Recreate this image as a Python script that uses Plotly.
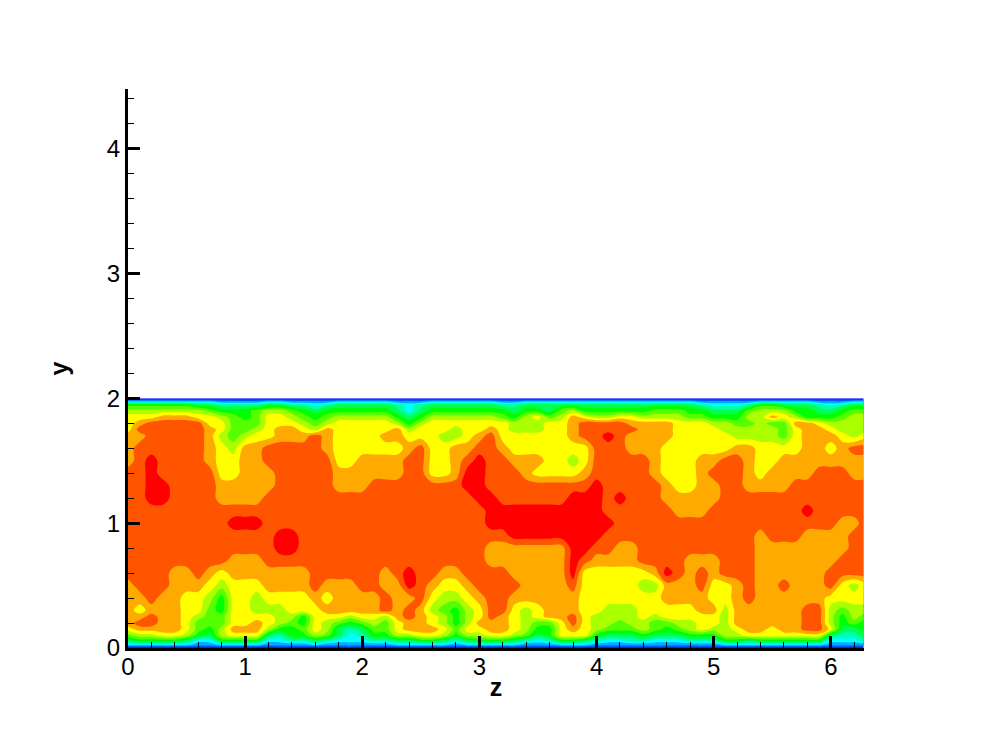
import plotly.graph_objects as go

z_pos = [round(i * 0.1, 1) for i in range(63)] + [6.28]
y_pos = [0, 0.01, 0.03, 0.06, 0.1, 0.15, 0.2, 0.25, 0.3, 0.4, 0.5, 0.6, 0.7, 0.8, 0.9, 1.0,
         1.1, 1.2, 1.3, 1.4, 1.5, 1.6, 1.7, 1.75, 1.8, 1.85, 1.9, 1.95, 1.97, 1.985, 2.0]

r000 = [0] * 64
r001 = [1] * 64
r003 = [3,3,3,3,3,3,2,2,3,3,3,3,2,2,2,2,3,2,2,2,2,2, 2,3,3,3,3,3,2,3,3,3,3,3,2,2,2,3,3,3,2,2, 2,2,2,2,2,2,2,2,2,3,3,3,3,3,3,3,3,3,2,2,2,2]
r006 = [5,6,6,6,6,5,3,3,6,6,6,6,3,3,4,4,5,4,3,3,3,4, 4,5,5,6,6,5,4,5,6,6,6,5,4,3,4,6,6,5,4,3, 3,4,4,3,3,3,4,4,4,6,6,5,6,6,6,6,6,6,3,3,3,4]
r010 = [7,8,8,9,9,8,6,5,8,9,9,9,5,4,6,6,8,7,5,3,4,6, 6,8,8,9,9,8,6,8,8,9,9,8,7,5,6,9,9,9,6,5, 5,5,6,5,5,5,6,6,6,8,8,9,9,9,9,9,9,9,5,4,4,5]
r015 = [9,10,10,10,10,9,7,6,8,10,10,10,8,6,6,7,9,8,5,4,5,7, 7,9,10,10,10,9,7,9,9,10,10,9,8,6,6,9,10,9,8,7, 7,7,8,7,6,7,8,9,8,8,9,10,10,9,10,10,11,11,9,5,5,6]
r020 = [10,11,11,10,10,9,7,7,7,9,9,10,9,8,7,6,9,8,7,6,7,8, 7,9,10,10,9,8,6,8,10,10,10,9,8,7,7,9,11,9,8,8, 7,8,8,7,7,8,8,9,9,8,10,10,10,10,10,10,11,11,8,6,7,6]
r025 = [10,10,11,10,10,9,8,7,7,9,9,9,9,8,8,6,9,9,9,8,9,9, 8,10,11,10,9,8,6,8,9,11,10,9,8,9,10,10,11,9,8,8, 8,8,9,8,9,9,9,9,9,8,10,10,10,10,10,10,11,11,8,6,8,7]
r030 = [10,9,10,10,10,9,9,7,6,9,9,8,8,8,9,9,9,10,10,10,10,10, 11,10,11,10,8,7,6,8,9,11,11,9,8,9,10,10,10,9,9,8, 8,8,9,9,9,9,9,10,10,8,10,10,10,10,10,10,11,11,8,7,8,8]
r040 = [10,10,11,10,10,9,9,8,6,9,9,8,9,9,9,9,10,9,10,10,10,10, 11,10,10,11,9,8,8,9,10,11,11,10,10,10,10,10,10,9,9,9, 9,9,9,9,10,10,10,10,9,9,10,11,10,10,10,10,10,10,9,9,9,9]
r050 = [10,11,11,11,10,10,10,9,8,9,9,9,10,10,10,10,11,10,10,10,11,11, 10,10,12,11,10,9,9,10,11,11,11,11,10,10,10,10,11,9,9,9, 9,9,8,8,10,10,10,11,9,9,10,11,10,10,11,10,10,10,11,9,8,9]
r060 = [11,11,11,11,10,10,11,10,9,10,10,10,10,10,10,10,11,11,11,11,11,11, 10,11,12,11,11,10,10,11,11,11,11,10,10,10,10,10,12,9,9,9, 9,9,9,10,12,11,10,11,10,11,11,11,10,10,10,10,10,10,11,11,11,11]
r070 = [11]*9 + [10,10,10] + [11]*10 + [11]*9 + [10]*7 + [12,11,10,10] + [10,10,11,11,11,11,10,10,10,11,11,11,10,10,10,10,10,10,10,11,11,11]
r080 = [11]*13 + [12,12] + [11]*7 + [11]*9 + [10]*7 + [12,12,11,11] + [10,10] + [11]*10 + [10]*8 + [11,11]
r090 = [11]*13 + [12,12] + [11]*7 + [11]*11 + [12]*8 + [11] + [11]*12 + [10] + [11]*3 + [10]*4 + [11,11]
r100 = [11]*9 + [12,12,12] + [11]*10 + [11]*9 + [12]*11 + [11]*19 + [10,10,11]
r110 = [11]*22 + [11]*9 + [12]*10 + [11] + [11]*5 + [10,10,10] + [11]*8 + [12] + [11]*5
r120 = [11,11,12,12,11,11,11,11,10,10,10,10,11,11,11,11,11,11,11,11,11,11, 11,11,11,11,11,11,11,11,12,12,11,11,11,11,11,11,12,12,12,11, 12,11,11,11,10,10,10,10,10,11,11,11,11,11,11,11,11,11,11,11,11,11]
r130 = [11,11,12,12,11,11,11,11,10,10,10,10,10,11,11,11,11,11,10,10,10,11, 11,11,11,11,11,11,11,12,12,11,11,11,11,11,11,11,11,11,12,11, 11,11,11,11,10,9,9,10,10,11,11,10,10,10,10,11,11,11,11,11,11,11]
r140 = [11,11,12,11,11,11,11,11,9,9,10,10,10,11,11,11,11,11,10,10,10,10, 10,10,11,11,9,9,10,12,12,11,11,11,10,9,9,9,9,10,11,11, 11,11,11,10,9,9,9,10,11,11,11,10,9,10,10,10,10,11,11,11,10,10]
r150 = [10,11,12,11,11,11,11,10,9,9,10,10,11,11,11,11,11,11,9,9,10,10, 10,10,11,11,9,9,10,11,12,11,11,10,10,10,9,9,8,9,11,11, 11,11,11,10,9,9,9,10,10,11,11,10,9,9,10,10,10,10,10,10,10,10]
r160 = [10,11,11,11,11,11,11,10,9,8,10,10,11,11,11,11,11,10,9,9,9,9, 9,9,10,11,9,9,10,10,11,11,10,9,9,9,9,9,9,9,11,11, 11,10,10,10,9,9,9,9,9,9,10,10,9,9,9,9,10,10,9,10,11,11]
r170 = [10,10,11,11,11,11,11,10,8,7,8,9,9,10,10,10,11,10,9,9,9,9, 10,10,9,9,9,8,8,9,10,11,9,9,9,9,9,9,10,11,11,12, 11,10,10,10,10,9,9,9,9,9,8,8,8,8,7,9,10,10,10,9,8,9]
r175 = [9,11,11,11,11,11,11,10,9,7,7,8,9,10,10,9,8,10,9,9,9,9, 9,10,8,9,9,9,8,9,9,10,9,8,8,8,9,9,10,11,11,11, 11,11,10,10,10,9,9,9,9,8,8,8,8,8,7,9,10,10,9,8,8,8]
r180 = [9,10,11,11,11,11,11,9,9,7,7,7,9,9,9,8,7,8,9,9,9,9, 9,8,6,8,9,9,9,9,9,9,9,8,8,8,9,9,10,11,11,11, 11,10,10,10,10,9,9,9,8,8,7,7,8,7,7,10,10,9,8,8,8,8]
r185 = [9,9,9,10,10,10,9,9,8,7,6,7,9,9,8,7,6,7,8,8,8,8, 8,6,5,6,8,8,8,8,8,8,7,6,8,9,7,8,10,9,8,8, 9,9,8,8,8,8,7,7,6,6,6,8,8,10,9,8,6,6,6,7,8,8]
r190 = [8,8,8,8,8,8,8,7,6,6,6,7,8,8,7,6,5,6,6,6,6,6, 6,5,3,5,6,6,6,6,6,6,6,5,6,6,5,7,8,6,6,6, 6,6,6,7,7,7,6,6,5,5,5,7,8,8,8,6,6,5,5,6,7,7]
r195 = [6,6,6,6,6,6,5,5,4,4,4,4,5,5,4,4,3,4,5,5,5,5, 5,4,3,4,5,5,5,5,5,5,4,4,5,5,5,5,5,5,5,5, 5,5,5,5,5,5,5,4,3,3,3,4,6,6,5,5,5,4,3,4,5,5]
r197 = [3,3,3,3,3,3,3,3,2,2,2,2,3,3,2,2,2,2,3,3,3,3, 3,2,2,2,3,3,3,3,3,3,2,2,3,3,3,3,3,3,3,3, 3,3,3,3,3,3,3,2,2,2,2,2,3,3,3,3,3,2,2,2,3,3]
r198 = [1] * 64
r200 = [0] * 64

speed_bands = [r000, r001, r003, r006, r010, r015, r020, r025, r030, r040, r050, r060, r070, r080, r090,
               r100, r110, r120, r130, r140, r150, r160, r170, r175, r180, r185, r190, r195, r197, r198, r200]
for k, row in enumerate(speed_bands):
    assert len(row) == 64, (k, len(row))

band_colors = ["#0000ff", "#0055ff", "#00aaff", "#00ffff", "#00ffaa", "#00ff55", "#00ff00",
               "#55ff00", "#aaff00", "#ffff00", "#ffaa00", "#ff5500", "#ff0000"]

n = len(band_colors)
scale = []
for i, c in enumerate(band_colors):
    scale.append([i / n, c])
    scale.append([(i + 1) / n, c])

fig = go.Figure(go.Contour(
    x=z_pos, y=y_pos, z=speed_bands,
    zmin=-0.5, zmax=12.5, autocontour=False,
    contours=dict(start=0.5, end=11.5, size=1, coloring="fill", showlines=False),
    line=dict(width=0),
    colorscale=scale, showscale=False, hoverinfo="skip",
))

tick_font = dict(family="Liberation Sans", size=24, color="black")
title_font = dict(family="Liberation Sans", size=25, color="black")
axis = dict(
    showgrid=False, zeroline=False, showline=True, linecolor="black", linewidth=3,
    ticks="inside", ticklen=12, tickwidth=3, tickcolor="black", dtick=1, tickfont=tick_font,
    minor=dict(ticks="inside", ticklen=6, tickwidth=1, tickcolor="black", dtick=0.2, showgrid=False),
)
fig.update_layout(
    width=974, height=721, paper_bgcolor="white", plot_bgcolor="white", showlegend=False,
    margin=dict(l=120, r=118, t=81, b=81),
    xaxis=dict(axis, range=[0, 6.2832], tickvals=[0, 1, 2, 3, 4, 5, 6], ticklabelstandoff=-5,
               title=dict(text="<b>z</b>", font=title_font, standoff=0)),
    yaxis=dict(axis, range=[0, 4.477], tickvals=[0, 1, 2, 3, 4],
               title=dict(text="<b>y</b>", font=title_font, standoff=32)),
)
fig.write_html("out.html")
